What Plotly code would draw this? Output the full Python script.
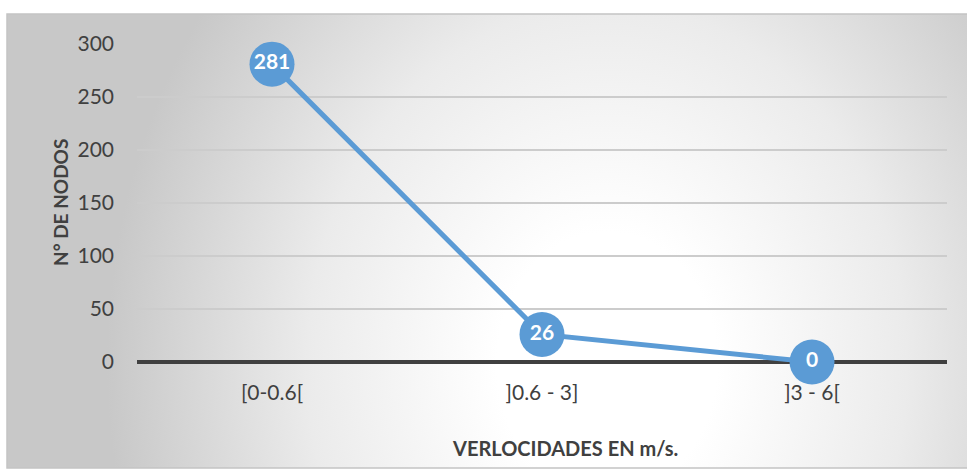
import base64
import plotly.graph_objects as go

# Node count per velocity range
categories = ["[0-0.6[", "]0.6 - 3]", "]3 - 6["]
nodes = [281, 26, 0]
y_ticks = [0, 50, 100, 150, 200, 250, 300]

FONT = "Lato"
W, H = 967, 469
L, R, T, B = 137, 20, 44, 107
plot_w = W - L - R
plot_h = H - T - B

# Radial gray-to-white backdrop for the chart area
svg = (
    '<svg xmlns="http://www.w3.org/2000/svg" width="960" height="454" '
    'viewBox="0 0 960 454" preserveAspectRatio="none">'
    '<defs><radialGradient id="g" cx="600" cy="350" r="500" '
    'gradientUnits="userSpaceOnUse" '
    'gradientTransform="translate(600 350) scale(1 1.2) translate(-600 -350)">'
    '<stop offset="0" stop-color="#ffffff"/>'
    '<stop offset="0.22" stop-color="#ffffff"/>'
    '<stop offset="0.6" stop-color="#ebebeb"/>'
    '<stop offset="1" stop-color="#c8c8c8"/>'
    '</radialGradient></defs>'
    '<rect width="960" height="454" fill="url(#g)"/></svg>'
)
bg_src = "data:image/svg+xml;base64," + base64.b64encode(svg.encode()).decode()

# chart area box in pixels
bx0, by0, bx1, by1 = 7, 14, 967, 468
def px_to_paper_x(px):
    return (px - L) / plot_w
def px_to_paper_y(py):
    return (H - B - py) / plot_h

fig = go.Figure()
fig.add_trace(go.Scatter(
    x=categories,
    y=nodes,
    mode="lines+markers+text",
    line=dict(color="#5b9bd5", width=5),
    marker=dict(size=45, color="#5b9bd5"),
    text=[str(v) for v in nodes],
    textposition="middle center",
    textfont=dict(family=FONT, size=21, color="white", weight="bold"),
    cliponaxis=False,
    hoverinfo="skip",
))

fig.add_layout_image(dict(
    source=bg_src,
    xref="paper", yref="paper",
    x=px_to_paper_x(bx0), y=px_to_paper_y(by0),
    sizex=(bx1 - bx0) / plot_w, sizey=(by1 - by0) / plot_h,
    sizing="stretch", layer="below", xanchor="left", yanchor="top",
))
fig.add_shape(
    type="rect", xref="paper", yref="paper", layer="below",
    x0=px_to_paper_x(bx0), x1=px_to_paper_x(bx1 + 2),
    y0=px_to_paper_y(by1), y1=px_to_paper_y(by0),
    line=dict(color="#c4c4c4", width=1.5), fillcolor="rgba(0,0,0,0)",
)

fig.update_layout(
    width=W, height=H,
    margin=dict(l=L, r=R, t=T, b=B),
    paper_bgcolor="white",
    plot_bgcolor="rgba(0,0,0,0)",
    showlegend=False,
    font=dict(family=FONT, color="#404040"),
    xaxis=dict(
        type="category",
        range=[-0.5, 2.5],
        showgrid=False,
        showline=False,
        zeroline=False,
        ticks="",
        tickfont=dict(family=FONT, size=21, color="#404040"),
        ticklabelstandoff=16,
    ),
    yaxis=dict(
        range=[0, 300],
        tickvals=y_ticks,
        showgrid=True,
        gridcolor="#cccccc",
        gridwidth=1.5,
        zeroline=True,
        zerolinecolor="#404040",
        zerolinewidth=3.5,
        showline=False,
        ticks="",
        tickfont=dict(family=FONT, size=21, color="#404040"),
        ticklabelstandoff=22,
    ),
    annotations=[
        dict(
            text="N° DE NODOS", xref="paper", yref="paper",
            x=px_to_paper_x(60), y=px_to_paper_y(203),
            xanchor="center", yanchor="middle",
            textangle=-90, showarrow=False,
            font=dict(family=FONT, size=19, color="#404040", weight="bold"),
        ),
        dict(
            text="VERLOCIDADES EN m/s.", xref="paper", yref="paper",
            x=px_to_paper_x(565), y=px_to_paper_y(448),
            xanchor="center", yanchor="middle",
            showarrow=False,
            font=dict(family=FONT, size=20, color="#404040", weight="bold"),
        ),
    ],
)

fig.write_html("out.html")
